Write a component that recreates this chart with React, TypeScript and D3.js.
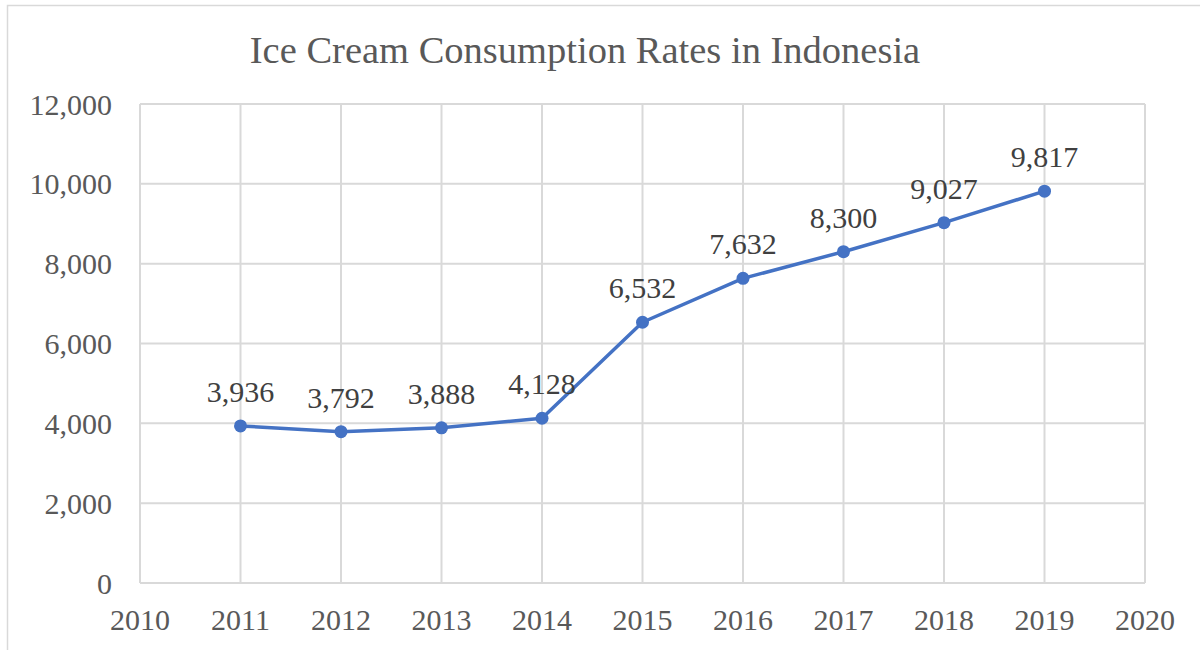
import React, { useEffect, useRef } from "react";
import * as d3 from "d3";

// chart data
const years = [2011, 2012, 2013, 2014, 2015, 2016, 2017, 2018, 2019];
const consumption = [3936, 3792, 3888, 4128, 6532, 7632, 8300, 9027, 9817];
const xTicks = [2010, 2011, 2012, 2013, 2014, 2015, 2016, 2017, 2018, 2019, 2020];
const yTicks = [0, 2000, 4000, 6000, 8000, 10000, 12000];
const title = "Ice Cream Consumption Rates in Indonesia";

const App = () => {
  const svgRef = useRef<SVGSVGElement>(null);

  useEffect(() => {
    const width = 1200;
    const height = 650;
    const plot = { left: 140, right: 1145, top: 104, bottom: 583 };
    const font = "'Liberation Serif', 'Times New Roman', serif";
    const gridColor = "#d9d9d9";
    const lineColor = "#4472C4";

    const svg = d3.select(svgRef.current);
    svg.selectAll("*").remove();
    svg.attr("width", width).attr("height", height);

    // white background + outer chart border
    svg.append("rect").attr("width", width).attr("height", height).attr("fill", "#fff");
    svg
      .append("rect")
      .attr("x", 7.5)
      .attr("y", 5.5)
      .attr("width", 1250)
      .attr("height", 700)
      .attr("fill", "none")
      .attr("stroke", gridColor)
      .attr("stroke-width", 1.5);

    const x = d3.scaleLinear().domain([2010, 2020]).range([plot.left, plot.right]);
    const y = d3.scaleLinear().domain([0, 12000]).range([plot.bottom, plot.top]);

    // title
    svg
      .append("text")
      .attr("x", 585)
      .attr("y", 63)
      .attr("text-anchor", "middle")
      .attr("font-family", font)
      .attr("font-size", 38.5)
      .attr("fill", "#595959")
      .text(title);

    // gridlines
    const grid = svg.append("g").attr("stroke", gridColor).attr("stroke-width", 2);
    grid
      .selectAll("line.h")
      .data(yTicks)
      .join("line")
      .attr("x1", plot.left)
      .attr("x2", plot.right)
      .attr("y1", (d) => y(d))
      .attr("y2", (d) => y(d));
    grid
      .selectAll("line.v")
      .data(xTicks)
      .join("line")
      .attr("x1", (d) => x(d))
      .attr("x2", (d) => x(d))
      .attr("y1", plot.top)
      .attr("y2", plot.bottom);

    // y axis labels
    svg
      .append("g")
      .selectAll("text")
      .data(yTicks)
      .join("text")
      .attr("x", 112)
      .attr("y", (d) => y(d))
      .attr("dy", "0.35em")
      .attr("text-anchor", "end")
      .attr("font-family", font)
      .attr("font-size", 30)
      .attr("fill", "#595959")
      .text((d) => d3.format(",")(d));

    // x axis labels
    svg
      .append("g")
      .selectAll("text")
      .data(xTicks)
      .join("text")
      .attr("x", (d) => x(d))
      .attr("y", 630)
      .attr("text-anchor", "middle")
      .attr("font-family", font)
      .attr("font-size", 30)
      .attr("fill", "#595959")
      .text((d) => String(d));

    const points = years.map((yr, i) => ({ yr, v: consumption[i] }));

    // line
    svg
      .append("path")
      .datum(points)
      .attr("fill", "none")
      .attr("stroke", lineColor)
      .attr("stroke-width", 3.5)
      .attr("stroke-linejoin", "round")
      .attr(
        "d",
        d3
          .line<{ yr: number; v: number }>()
          .x((d) => x(d.yr))
          .y((d) => y(d.v))
      );

    // markers
    svg
      .append("g")
      .selectAll("circle")
      .data(points)
      .join("circle")
      .attr("cx", (d) => x(d.yr))
      .attr("cy", (d) => y(d.v))
      .attr("r", 6.5)
      .attr("fill", lineColor);

    // data labels
    svg
      .append("g")
      .selectAll("text")
      .data(points)
      .join("text")
      .attr("x", (d) => x(d.yr))
      .attr("y", (d) => y(d.v) - 24)
      .attr("text-anchor", "middle")
      .attr("font-family", font)
      .attr("font-size", 30)
      .attr("fill", "#404040")
      .text((d) => d3.format(",")(d.v));
  }, []);

  return (
    <svg
      ref={svgRef}
      style={{ position: "absolute", left: 0, top: 0, display: "block" }}
    ></svg>
  );
};

export default App;
